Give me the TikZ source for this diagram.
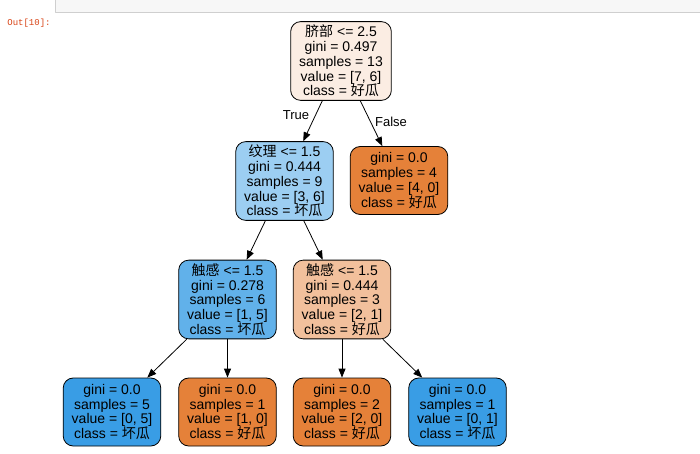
\documentclass[tikz,border=0pt]{standalone}
\usepackage{fontspec}
\setmainfont{Liberation Sans}
\newfontfamily\cjk{Noto Sans CJK SC}
\newfontfamily\outfont{Liberation Mono}
\usetikzlibrary{arrows.meta}
\definecolor{goodc}{HTML}{E58139}
\definecolor{badc}{HTML}{399DE5}
\definecolor{rootc}{HTML}{FBEDE3}
\definecolor{lightbad}{HTML}{9CCEF2}
\definecolor{midbad}{HTML}{61B1EA}
\definecolor{lightgood}{HTML}{F2C09C}
\definecolor{outred}{HTML}{D84315}
\newcommand\treefont{\fontsize{14}{14.7}\selectfont}
\newcommand\good{{\cjk 好瓜}}
\newcommand\bad{{\cjk 坏瓜}}
\begin{document}
\begin{tikzpicture}[x=1pt,y=-1pt,line cap=round,line join=round,>={Triangle[length=9pt,width=7pt]},
  tree/.style={draw=black,line width=0.8pt,rounded corners=10pt,align=center,
    inner xsep=8.5pt,inner ysep=3.5pt,minimum width=97pt,minimum height=68pt,font=\treefont},
  edgelbl/.style={font=\fontsize{13}{14}\selectfont}]
  \useasboundingbox (0,0) rectangle (700,454);
  \fill[fill=black!3,draw=black!19,line width=0.8pt] (55,-3) rectangle (703,12);
  \node[text=outred,font=\outfont\fontsize{9}{10}\selectfont] (out) at (29,23) {Out[10]:};
  \node[tree,fill=rootc] (root) at (341,61)
    {{\cjk 脐部} <= 2.5\\gini = 0.497\\samples = 13\\value = [7, 6]\\class = \good};
  \node[tree,fill=lightbad] (wenli) at (284.5,181)
    {{\cjk 纹理} <= 1.5\\gini = 0.444\\samples = 9\\value = [3, 6]\\class = \bad};
  \node[tree,fill=goodc] (leafa) at (399,180.5)
    {gini = 0.0\\samples = 4\\value = [4, 0]\\class = \good};
  \node[tree,fill=midbad] (chugana) at (227.5,299.5)
    {{\cjk 触感} <= 1.5\\gini = 0.278\\samples = 6\\value = [1, 5]\\class = \bad};
  \node[tree,fill=lightgood] (chuganb) at (342,299.5)
    {{\cjk 触感} <= 1.5\\gini = 0.444\\samples = 3\\value = [2, 1]\\class = \good};
  \node[tree,fill=badc] (leafb) at (112,412)
    {gini = 0.0\\samples = 5\\value = [0, 5]\\class = \bad};
  \node[tree,fill=goodc] (leafc) at (227.5,412)
    {gini = 0.0\\samples = 1\\value = [1, 0]\\class = \good};
  \node[tree,fill=goodc] (leafd) at (342,412)
    {gini = 0.0\\samples = 2\\value = [2, 0]\\class = \good};
  \node[tree,fill=badc] (leafe) at (457.5,412)
    {gini = 0.0\\samples = 1\\value = [0, 1]\\class = \bad};
  \draw[->,line width=0.8pt] (root) -- (wenli);
  \draw[->,line width=0.8pt] (root) -- (leafa);
  \draw[->,line width=0.8pt] (wenli) -- (chugana);
  \draw[->,line width=0.8pt] (wenli) -- (chuganb);
  \draw[->,line width=0.8pt] (chugana) -- (leafb);
  \draw[->,line width=0.8pt] (chugana) -- (leafc);
  \draw[->,line width=0.8pt] (chuganb) -- (leafd);
  \draw[->,line width=0.8pt] (chuganb) -- (leafe);
  \node[edgelbl] (truelbl) at (296,115) {True};
  \node[edgelbl] (falselbl) at (391,122) {False};
\end{tikzpicture}
\end{document}
